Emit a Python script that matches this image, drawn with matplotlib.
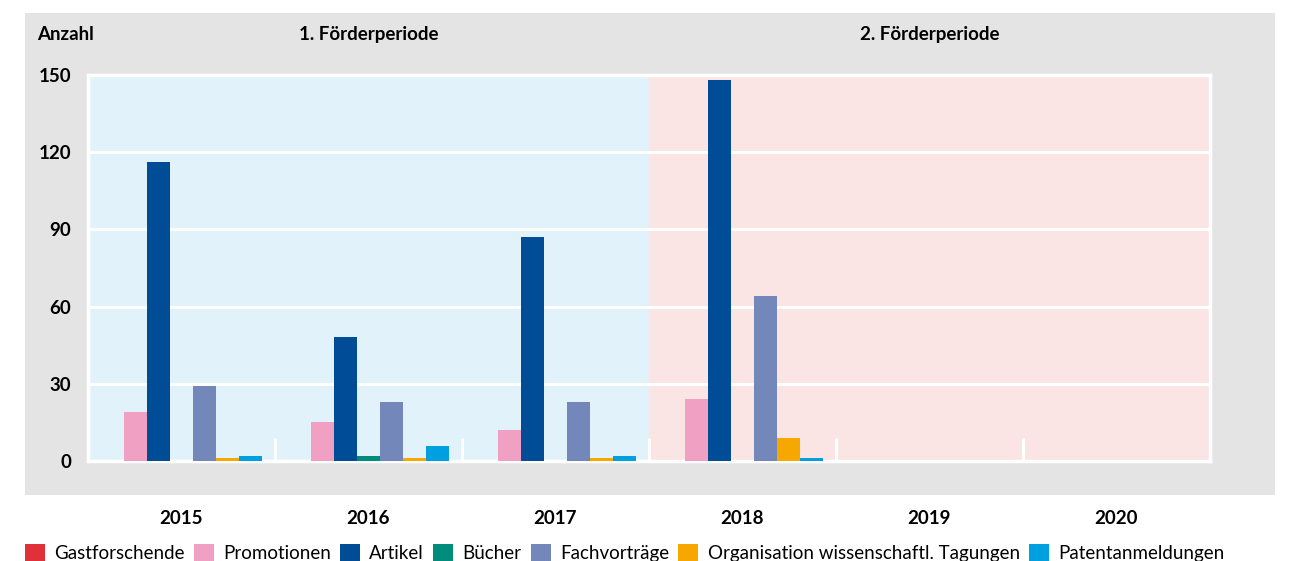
import numpy as np
import matplotlib.pyplot as plt
from matplotlib.patches import Rectangle, Patch

plt.rcParams['font.family'] = ['Lato', 'DejaVu Sans']

# Jahre und Kategorien
jahre = ['2015', '2016', '2017', '2018', '2019', '2020']
kategorien = ['Gastforschende', 'Promotionen', 'Artikel', 'Bücher',
              'Fachvorträge', 'Organisation wissenschaftl. Tagungen',
              'Patentanmeldungen']
farben = ['#E0303A', '#F0A0C2', '#004C97', '#008C7A',
          '#7387BB', '#F7A800', '#009FE0']

# Werte je Kategorie und Jahr
gastforschende = [0, 0, 0, 0, 0, 0]
promotionen = [19, 15, 12, 24, 0, 0]
artikel = [116, 48, 87, 148, 0, 0]
buecher = [0, 2, 0, 0, 0, 0]
fachvortraege = [29, 23, 23, 64, 0, 0]
tagungen = [1, 1, 1, 9, 0, 0]
patente = [2, 6, 2, 1, 0, 0]
werte = [gastforschende, promotionen, artikel, buecher,
         fachvortraege, tagungen, patente]

perioden = ['1. Förderperiode', '2. Förderperiode']
yticks = [0, 30, 60, 90, 120, 150]

fig = plt.figure(figsize=(12.9, 5.61), dpi=100)
fig.patch.set_facecolor('white')

# grauer Hintergrund
fig.patches.append(Rectangle((25 / 1290, 1 - 495 / 561), 1250 / 1290, 482 / 561,
                             transform=fig.transFigure, facecolor='#E3E4E3',
                             edgecolor='none', zorder=-5))

ax = fig.add_axes([88 / 1290, 1 - 461 / 561, 1122 / 1290, 386 / 561])
ax.set_facecolor('none')

ax.axvspan(-0.5, 2.5, color='#E1F2FB', zorder=0)
ax.axvspan(2.5, 5.5, color='#FAE4E4', zorder=0)

x = np.arange(len(jahre))
w = 0.123
for i, (vals, c) in enumerate(zip(werte, farben)):
    ax.bar(x + (i - 3) * w, vals, width=w, color=c, zorder=3)

ax.set_xlim(-0.5, 5.5)
ax.set_ylim(0, 150)
ax.set_yticks(yticks)
ax.set_yticklabels([str(v) for v in yticks], fontsize=13.5, fontweight='bold')
ax.tick_params(axis='y', length=0, pad=12)
ax.set_xticks([])
ax.grid(axis='y', color='white', linewidth=2.2, zorder=1)
for s in ax.spines.values():
    s.set_color('white')
    s.set_linewidth(2.5)
    s.set_zorder(2)

# Trennstriche zwischen den Jahren
ax.vlines(x[:-1] + 0.5, 0, 9, color='white', linewidth=2.2, zorder=2)

trans = ax.get_xaxis_transform()
for xi, j in zip(x, jahre):
    ax.text(xi, -0.148, j, transform=trans, ha='center', va='center',
            fontsize=13.5, fontweight='bold')

ax.text(1, 1.105, perioden[0], transform=trans, ha='center', va='center',
        fontsize=13.5, fontweight='bold')
ax.text(4, 1.105, perioden[1], transform=trans, ha='center', va='center',
        fontsize=13.5, fontweight='bold')
fig.text(37 / 1290, 1 - 35 / 561, 'Anzahl', ha='left', va='center',
         fontsize=13.5, fontweight='bold')

handles = [Patch(facecolor=c, edgecolor='none') for c in farben]
fig.legend(handles, kategorien, loc='lower left', ncol=7,
           bbox_to_anchor=(25 / 1290, -0.002), frameon=False, fontsize=13.5,
           handlelength=1.05, handleheight=1.05, handletextpad=0.5,
           columnspacing=0.5, borderpad=0, borderaxespad=0)

plt.savefig('out.png', dpi=100)
